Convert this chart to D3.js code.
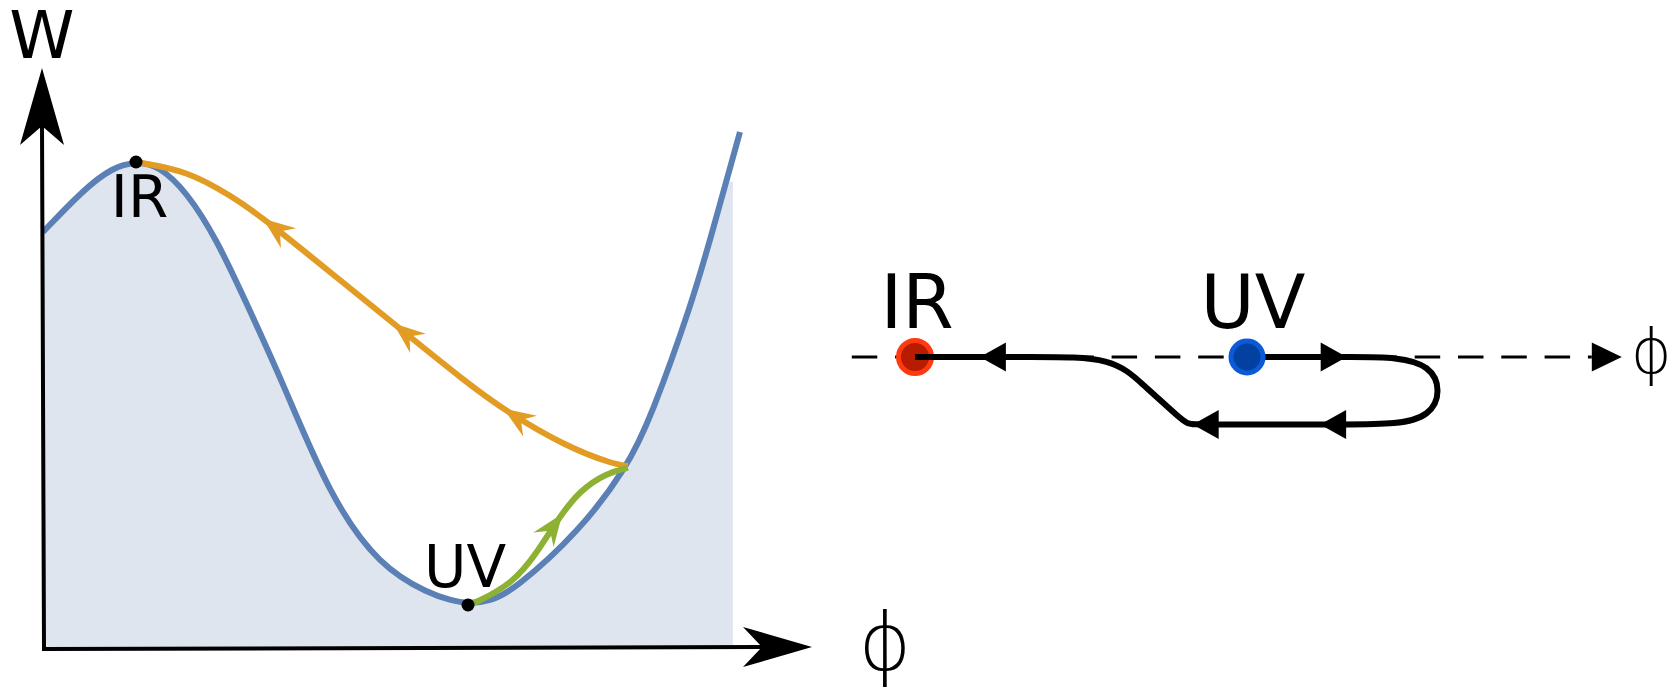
<!DOCTYPE html>
<html><head><meta charset="utf-8">
<script src="https://cdn.jsdelivr.net/npm/d3@7"></script>
<style>html,body{margin:0;padding:0;background:#fff;} svg{display:block;}</style>
</head><body>
<svg id="chart" width="1677" height="692"></svg>
<script>
// ---------- DATA ----------
// Potential W(phi), left panel
const potentialPhi = [0.014, 0.586, 1.014, 1.343, 1.657, 2.071, 2.5, 2.9, 3.443, 4.114, 4.829, 5.543, 5.829, 6.086, 6.4, 6.729, 7.686, 8.357, 8.686, 9.3, 9.571, 9.971];
const potentialW   = [7.155, 7.879, 8.276, 8.362, 8.310, 7.845, 7.017, 5.983, 4.552, 2.586, 1.379, 0.914, 0.810, 0.741, 0.793, 0.966, 2.0, 3.103, 3.914, 5.983, 7.138, 8.879];
// Shaded region: under the curve; near the right edge it stops at this W
const shadeMaxPhi = 9.87, shadeMaxW = 8.02, shadeCapFrom = 9.5;
// Fixed points
const fixedNames = ["IR", "UV"];
const fixedPhi   = [1.343, 6.086];
const fixedW     = [8.362, 0.724];
// Orange flow (towards IR)
const orangePhi = [1.343, 2.071, 2.729, 3.157, 4.114, 5.014, 6.071, 6.643, 7.5, 8.157, 8.371];
const orangeW   = [8.362, 8.216, 7.759, 7.397, 6.466, 5.586, 4.552, 4.052, 3.448, 3.155, 3.121];
const orangeArrowAt = [0.241, 0.526, 0.764];
// Green flow (away from UV)
const greenPhi = [6.086, 6.19, 6.73, 7.07, 7.36, 7.69, 8.07, 8.371];
const greenW   = [0.724, 0.76, 1.10, 1.62, 2.19, 2.71, 3.00, 3.09];
const greenArrowAt = [0.62];
// Right panel: flow along phi (lane 0 = phi axis, lane 1 = return track); spline control points
const flowPhi  = [6.086, 7.6, 8.86, 8.86, 7.6, 5.4, 5.23, 5.08, 4.6, 4.17, 3.1, 1.343];
const flowLane = [0,     0,   0,    1,    1,   1,   1,    0.86, 0.41, 0,   0,   0];
const flowArrowPhi  = [2.27, 7.51, 7.13, 5.31];
const flowArrowLane = [0, 0, 1, 1];
const flowArrowDir  = [-1, 1, -1, -1];
const axisStartPhi = 0.44, axisEndPhi = 11.44;

// ---------- SCALES ----------
const svg = d3.select('#chart');
const x  = d3.scaleLinear().domain([0, 10]).range([42, 742]);
const y  = d3.scaleLinear().domain([0, 10]).range([647, 67]);
const xR = d3.scaleLinear().domain([0, 10]).range([821, 1521]);
const yR = d3.scaleLinear().domain([0, 1]).range([357, 424.5]);

const C = {fill:'#dfe5ef', blue:'#5b80b5', orange:'#e29c24', green:'#8db133',
  redOut:'#ff3a10', redIn:'#b71c00', bluOut:'#0b5bd9', bluIn:'#04409f'};
const FONT = "'DejaVu Sans', sans-serif";

function stealth(L, W, N){ return `M0,0L${-L},${-W}L${-N},0L${-L},${W}Z`; }
function tri(L, W){ return `M0,0L${-L},${-W}L${-L},${W}Z`; }

// ---------- LEFT PANEL ----------
const smooth = d3.curveBasis;
const pot = potentialPhi.map((p,i)=>[p, potentialW[i]]);
const clip = svg.append('clipPath').attr('id','shadeClip');
clip.append('rect').attr('x', 0).attr('y', 0)
  .attr('width', x(shadeCapFrom)).attr('height', y(0));
clip.append('rect').attr('x', x(shadeCapFrom)).attr('y', y(shadeMaxW))
  .attr('width', x(shadeMaxPhi)-x(shadeCapFrom)).attr('height', y(0)-y(shadeMaxW));
svg.append('path')
  .attr('clip-path','url(#shadeClip)')
  .attr('d', d3.area().x(d=>x(d[0])+1).y0(y(0)).y1(d=>y(d[1])).curve(smooth)(pot))
  .attr('fill', C.fill);

const lineXY = d3.line().x(d=>x(d[0])).y(d=>y(d[1])).curve(smooth);
svg.append('path').attr('d', lineXY(pot)).attr('fill','none')
  .attr('stroke', C.blue).attr('stroke-width', 6);

function flow(phis, ws, color, at, dir){
  const pts = phis.map((p,i)=>[p, ws[i]]);
  const p = svg.append('path').attr('d', lineXY(pts)).attr('fill','none')
    .attr('stroke', color).attr('stroke-width', 6);
  const node = p.node(), len = node.getTotalLength();
  at.forEach(f=>{
    const l = f*len, a = node.getPointAtLength(l);
    const b = node.getPointAtLength(Math.min(len, l+2)), c = node.getPointAtLength(Math.max(0, l-2));
    let ang = Math.atan2(b.y-c.y, b.x-c.x)*180/Math.PI;
    if (dir < 0) ang += 180;
    svg.append('path').attr('d', stealth(32, 12.5, 21)).attr('fill', color)
      .attr('transform', `translate(${a.x},${a.y}) rotate(${ang})`);
  });
}
flow(orangePhi, orangeW, C.orange, orangeArrowAt, -1);
flow(greenPhi, greenW, C.green, greenArrowAt, 1);

// axes
svg.append('path')
  .attr('d', `M${x(0)},${y(10)+59}L${x(0)+2},${y(0)+2}L${x(11)-50},${y(0)}`)
  .attr('fill','none').attr('stroke','#000').attr('stroke-width', 4);
svg.append('path').attr('d', stealth(77, 22, 58))
  .attr('transform', `translate(${x(0)},${y(10)+1}) rotate(-90)`);
svg.append('path').attr('d', stealth(69, 20, 50))
  .attr('transform', `translate(${x(11)},${y(0)}) rotate(0)`);

// fixed points + labels
svg.selectAll('.fp').data(fixedPhi).join('circle')
  .attr('cx', d=>x(d)).attr('cy', (d,i)=>y(fixedW[i])).attr('r', 6.5).attr('fill','#000');
svg.append('text').text('W').attr('x', x(0)).attr('y', 58).attr('text-anchor','middle')
  .attr('font-family', FONT).attr('font-size', 66);
svg.append('text').text(fixedNames[0]).attr('x', x(fixedPhi[0])+3.5).attr('y', y(fixedW[0])+55)
  .attr('text-anchor','middle').attr('font-family', FONT).attr('font-size', 58);
svg.append('text').text(fixedNames[1]).attr('x', x(fixedPhi[1])-3).attr('y', y(fixedW[1])-18)
  .attr('text-anchor','middle').attr('font-family', FONT).attr('font-size', 58);
svg.append('text').text('ϕ').attr('x', 885).attr('y', 670)
  .attr('text-anchor','middle').attr('font-family', FONT).attr('font-weight', 200).attr('font-size', 80);

// ---------- RIGHT PANEL ----------
svg.append('line').attr('x1', xR(axisStartPhi)).attr('x2', xR(axisEndPhi)-30)
  .attr('y1', yR(0)).attr('y2', yR(0)).attr('stroke','#000').attr('stroke-width', 3)
  .attr('stroke-dasharray', '25.5,17.8');
svg.append('path').attr('d', tri(30, 14.5))
  .attr('transform', `translate(${xR(axisEndPhi)},${yR(0)})`);
svg.append('text').text('ϕ').attr('x', xR(11.86)).attr('y', 373)
  .attr('text-anchor','middle').attr('font-family', FONT).attr('font-weight', 200).attr('font-size', 62);

// IR dot (under path)
svg.append('circle').attr('cx', xR(fixedPhi[0])).attr('cy', yR(0)).attr('r', 16.5)
  .attr('fill', C.redIn).attr('stroke', C.redOut).attr('stroke-width', 5);

const flowPts = flowPhi.map((p,i)=>[p, flowLane[i]]);
svg.append('path')
  .attr('d', d3.line().x(d=>xR(d[0])).y(d=>yR(d[1])).curve(d3.curveBasis)(flowPts))
  .attr('fill','none').attr('stroke','#000').attr('stroke-width', 6);
flowArrowPhi.forEach((p,i)=>{
  svg.append('path').attr('d', tri(26, 14.5))
    .attr('transform', `translate(${xR(p)},${yR(flowArrowLane[i])}) rotate(${flowArrowDir[i] > 0 ? 0 : 180})`);
});

// UV dot (over path)
svg.append('circle').attr('cx', xR(fixedPhi[1])).attr('cy', yR(0)).attr('r', 16)
  .attr('fill', C.bluIn).attr('stroke', C.bluOut).attr('stroke-width', 5);

svg.append('text').text(fixedNames[0]).attr('x', xR(fixedPhi[0])+2).attr('y', 328)
  .attr('text-anchor','middle').attr('font-family', FONT).attr('font-size', 74);
svg.append('text').text(fixedNames[1]).attr('x', xR(fixedPhi[1])+6).attr('y', 328)
  .attr('text-anchor','middle').attr('font-family', FONT).attr('font-size', 74);
</script>
</body></html>
